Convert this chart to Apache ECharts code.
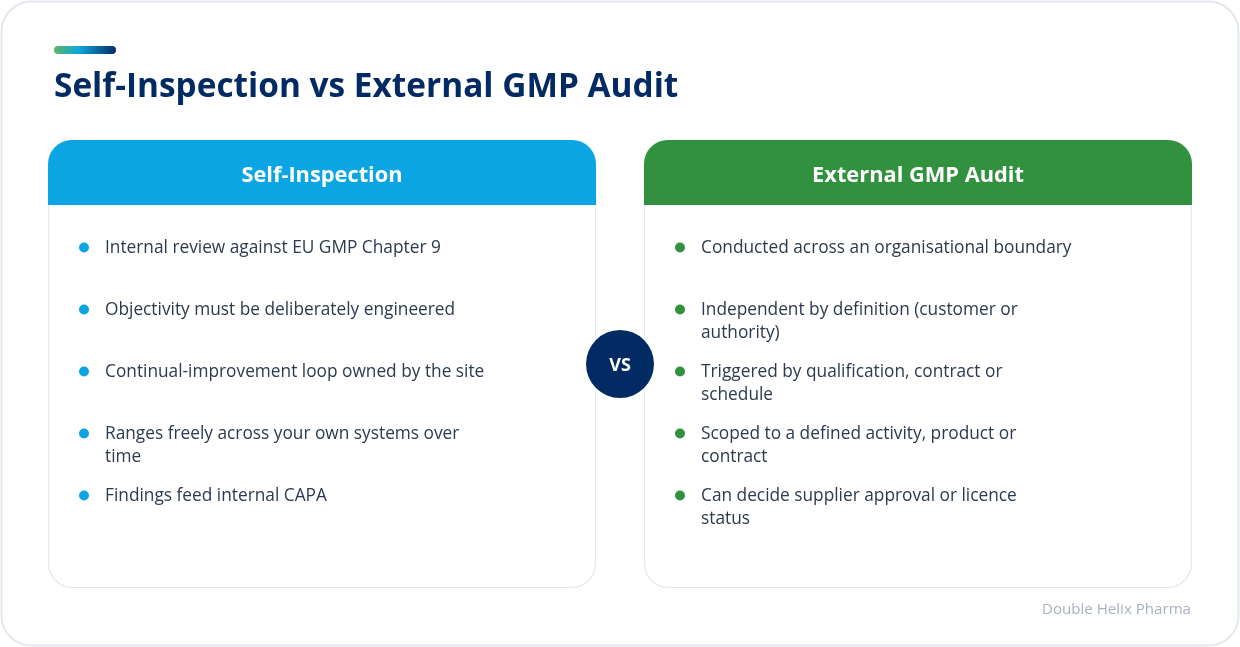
<!DOCTYPE html>
<html>
<head>
<meta charset="utf-8">
<title>Self-Inspection vs External GMP Audit</title>
<style>
  html,body{margin:0;padding:0;background:#fff}
  #main{width:1240px;height:647px}
</style>
<script src="https://cdn.jsdelivr.net/npm/echarts@6/dist/echarts.min.js"></script>
</head>
<body>
<div id="main"></div>
<script>
const titleText = 'Self-Inspection vs External GMP Audit'
const footerText = 'Double Helix Pharma'
const vsText = 'VS'
const leftHeader = 'Self-Inspection'
const rightHeader = 'External GMP Audit'
const leftItems = [
  'Internal review against EU GMP Chapter 9',
  'Objectivity must be deliberately engineered',
  'Continual-improvement loop owned by the site',
  'Ranges freely across your own systems over\ntime',
  'Findings feed internal CAPA'
]
const rightItems = [
  'Conducted across an organisational boundary',
  'Independent by definition (customer or\nauthority)',
  'Triggered by qualification, contract or\nschedule',
  'Scoped to a defined activity, product or\ncontract',
  'Can decide supplier approval or licence\nstatus'
]

const font = '"Open Sans","Noto Sans",sans-serif'
const navy = '#032b63'
const borderCol = '#e3e8ee'

// one panel: white card, coloured header, bullets
function panel(x, color, header, items) {
  const w = 548, top = 140, h = 448, headH = 65
  const els = [
    {type:'rect', shape:{x:x+0.5, y:top+0.5, width:w-1, height:h-1, r:24},
      style:{fill:'#fff', stroke:borderCol, lineWidth:1.2}},
    {type:'rect', shape:{x:x, y:top, width:w, height:headH, r:[24,24,0,0]},
      style:{fill:color}},
    {type:'text', x:x+w/2, y:top+headH/2+3.2,
      style:{text:header, fill:'#fff', font:'700 21.8px '+font, align:'center', verticalAlign:'middle'}}
  ]
  items.forEach(function(t, i){
    const y = 247 + i*62
    els.push({type:'circle', shape:{cx:x+36, cy:y+0.5, r:5}, style:{fill:color}})
    els.push({type:'text', x:x+57, y:y-10,
      style:{text:t, fill:'#2b3a4e', font:'400 17.3px '+font, lineHeight:23, align:'left', verticalAlign:'top'}})
  })
  return els
}

const chart = echarts.init(document.getElementById('main'), null, {renderer:'canvas'})
chart.setOption({
  animation:false,
  backgroundColor:'#fff',
  graphic:{elements:[
    // outer frame
    {type:'rect', shape:{x:1.5, y:1.5, width:1237, height:644, r:30},
      style:{fill:'#fff', stroke:borderCol, lineWidth:2}},
    // accent bar
    {type:'rect', shape:{x:54, y:46, width:62, height:8, r:4},
      style:{fill:new echarts.graphic.LinearGradient(0,0,1,1,[
        {offset:0, color:'#5cb860'},{offset:0.4, color:'#0ea5dd'},{offset:1, color:'#032b63'}])}},
    {type:'text', x:54, y:87.5,
      style:{text:titleText, fill:navy, font:'700 33.4px '+font, align:'left', verticalAlign:'middle'}}
  ].concat(
    panel(48, '#0ba5e4', leftHeader, leftItems),
    panel(644, '#31913f', rightHeader, rightItems),
    [
      {type:'circle', shape:{cx:620, cy:364, r:34}, style:{fill:navy}},
      {type:'text', x:620, y:366,
        style:{text:vsText, fill:'#fff', font:'700 18px '+font, align:'center', verticalAlign:'middle'}},
      {type:'text', x:1191, y:610,
        style:{text:footerText, fill:'#a9b2bd', font:'400 15.1px '+font, align:'right', verticalAlign:'middle'}}
    ]
  )}
})
</script>
</body>
</html>
